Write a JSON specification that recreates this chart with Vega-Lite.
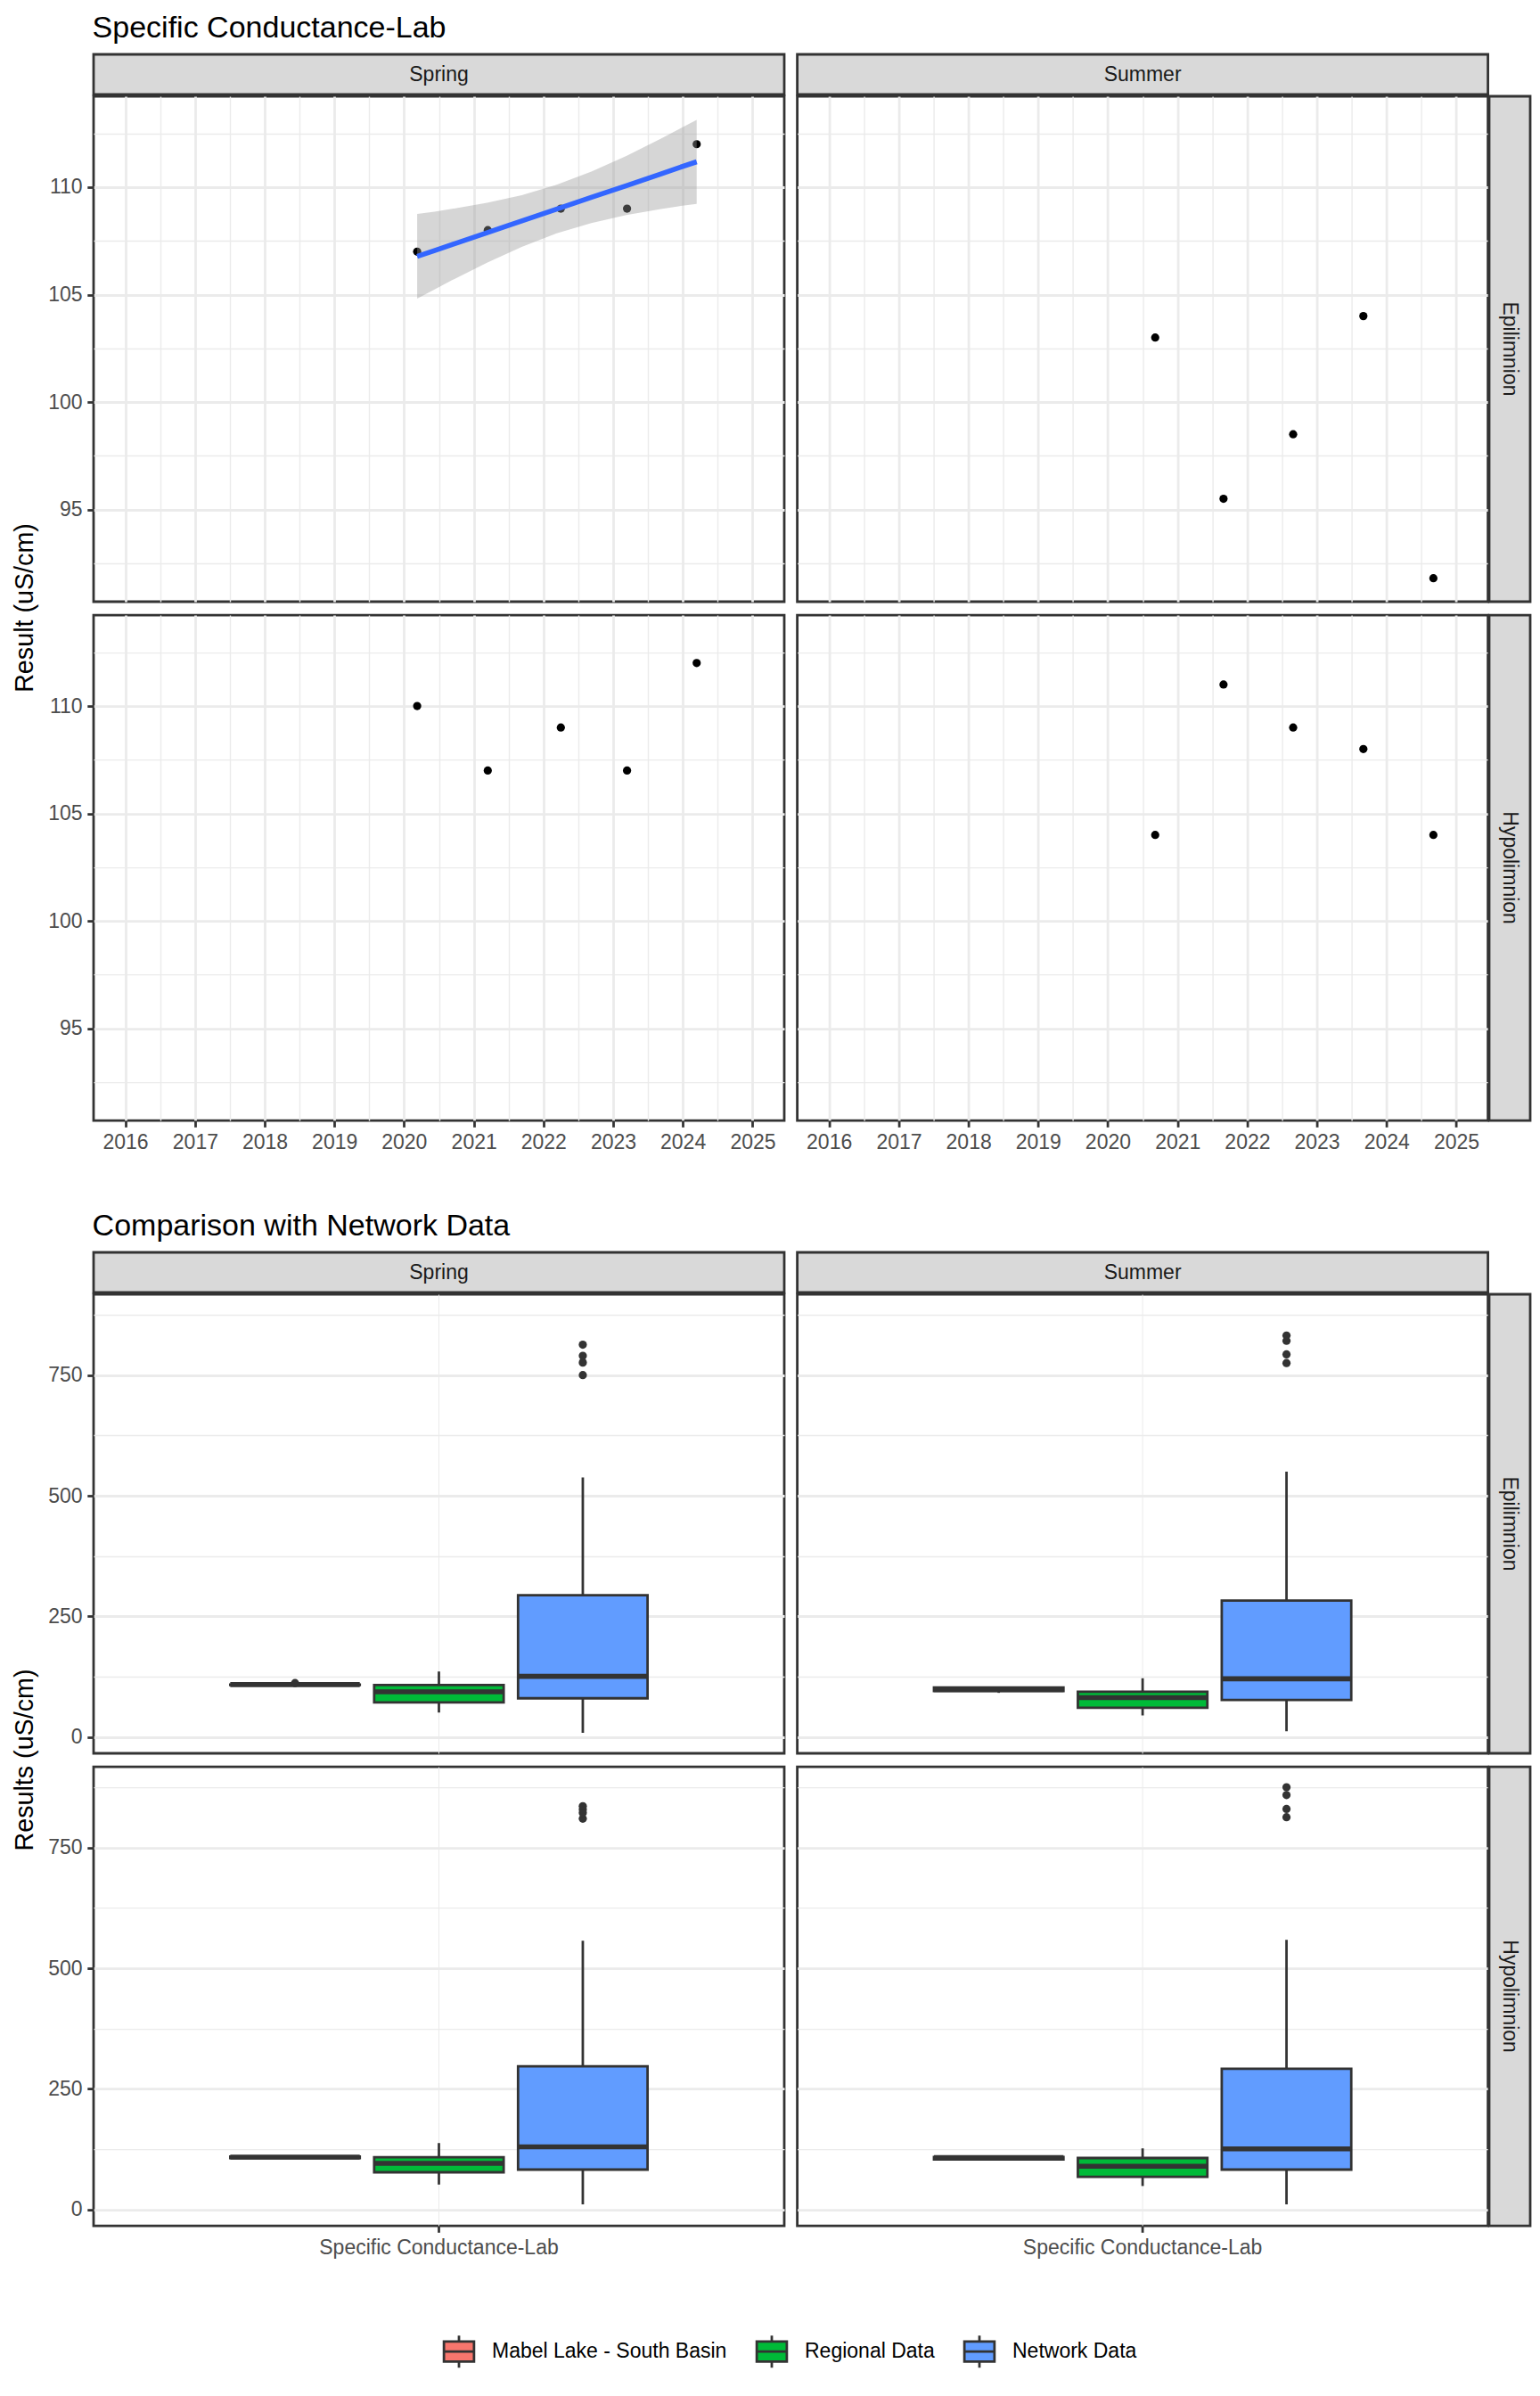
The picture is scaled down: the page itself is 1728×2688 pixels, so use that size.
{
"$schema": "https://vega.github.io/schema/vega-lite/v6.json",
"background": "white",
"padding": {"left": 8, "top": 14, "right": 5, "bottom": 5},
"datasets": {
"points": [
{"season":"Spring","depth":"Epilimnion","date":"2020-03-10","value":107},
{"season":"Spring","depth":"Epilimnion","date":"2021-03-15","value":108},
{"season":"Spring","depth":"Epilimnion","date":"2022-04-02","value":109},
{"season":"Spring","depth":"Epilimnion","date":"2023-03-15","value":109},
{"season":"Spring","depth":"Epilimnion","date":"2024-03-14","value":112},
{"season":"Spring","depth":"Hypolimnion","date":"2020-03-10","value":110},
{"season":"Spring","depth":"Hypolimnion","date":"2021-03-15","value":107},
{"season":"Spring","depth":"Hypolimnion","date":"2022-04-02","value":109},
{"season":"Spring","depth":"Hypolimnion","date":"2023-03-15","value":107},
{"season":"Spring","depth":"Hypolimnion","date":"2024-03-14","value":112},
{"season":"Summer","depth":"Epilimnion","date":"2020-09-06","value":103},
{"season":"Summer","depth":"Epilimnion","date":"2021-08-30","value":95.5},
{"season":"Summer","depth":"Epilimnion","date":"2022-08-30","value":98.5},
{"season":"Summer","depth":"Epilimnion","date":"2023-09-02","value":104},
{"season":"Summer","depth":"Epilimnion","date":"2024-09-03","value":91.8},
{"season":"Summer","depth":"Hypolimnion","date":"2020-09-06","value":104},
{"season":"Summer","depth":"Hypolimnion","date":"2021-08-30","value":111},
{"season":"Summer","depth":"Hypolimnion","date":"2022-08-30","value":109},
{"season":"Summer","depth":"Hypolimnion","date":"2023-09-02","value":108},
{"season":"Summer","depth":"Hypolimnion","date":"2024-09-03","value":104}
],
"smooth": [
{"date":"2020-03-10","fit":106.78,"lo":104.81,"hi":108.75},
{"date":"2020-06-09","fit":107.05,"lo":105.24,"hi":108.86},
{"date":"2020-09-09","fit":107.33,"lo":105.67,"hi":108.99},
{"date":"2021-03-11","fit":107.88,"lo":106.48,"hi":109.27},
{"date":"2021-09-09","fit":108.43,"lo":107.22,"hi":109.63},
{"date":"2022-03-11","fit":108.98,"lo":107.85,"hi":110.11},
{"date":"2022-09-09","fit":109.53,"lo":108.33,"hi":110.72},
{"date":"2023-03-11","fit":110.07,"lo":108.70,"hi":111.45},
{"date":"2023-09-09","fit":110.62,"lo":108.98,"hi":112.26},
{"date":"2023-12-09","fit":110.90,"lo":109.11,"hi":112.69},
{"date":"2024-03-14","fit":111.18,"lo":109.22,"hi":113.13}
],
"boxes": [
{"param":"Specific Conductance-Lab","season":"Spring","depth":"Epilimnion","group":"Mabel Lake - South Basin","lw":107,"q1":108,"med":109,"q3":109,"uw":109},
{"param":"Specific Conductance-Lab","season":"Spring","depth":"Epilimnion","group":"Regional Data","lw":51,"q1":72,"med":94,"q3":108,"uw":136},
{"param":"Specific Conductance-Lab","season":"Spring","depth":"Epilimnion","group":"Network Data","lw":9,"q1":80.5,"med":126,"q3":294,"uw":538},
{"param":"Specific Conductance-Lab","season":"Summer","depth":"Epilimnion","group":"Mabel Lake - South Basin","lw":91.8,"q1":95.5,"med":98.5,"q3":103,"uw":104},
{"param":"Specific Conductance-Lab","season":"Summer","depth":"Epilimnion","group":"Regional Data","lw":45,"q1":61,"med":82,"q3":94,"uw":122},
{"param":"Specific Conductance-Lab","season":"Summer","depth":"Epilimnion","group":"Network Data","lw":12,"q1":77,"med":121,"q3":283,"uw":550},
{"param":"Specific Conductance-Lab","season":"Spring","depth":"Hypolimnion","group":"Mabel Lake - South Basin","lw":107,"q1":107,"med":109,"q3":110,"uw":112},
{"param":"Specific Conductance-Lab","season":"Spring","depth":"Hypolimnion","group":"Regional Data","lw":52,"q1":77.5,"med":96,"q3":108.5,"uw":138},
{"param":"Specific Conductance-Lab","season":"Spring","depth":"Hypolimnion","group":"Network Data","lw":11,"q1":83,"med":130,"q3":297,"uw":557},
{"param":"Specific Conductance-Lab","season":"Summer","depth":"Hypolimnion","group":"Mabel Lake - South Basin","lw":104,"q1":104,"med":108,"q3":109,"uw":111},
{"param":"Specific Conductance-Lab","season":"Summer","depth":"Hypolimnion","group":"Regional Data","lw":49,"q1":68,"med":90,"q3":107,"uw":127},
{"param":"Specific Conductance-Lab","season":"Summer","depth":"Hypolimnion","group":"Network Data","lw":11,"q1":83,"med":126,"q3":292,"uw":559}
],
"outliers": [
{"param":"Specific Conductance-Lab","season":"Spring","depth":"Epilimnion","group":"Mabel Lake - South Basin","value":112},
{"param":"Specific Conductance-Lab","season":"Spring","depth":"Epilimnion","group":"Network Data","value":750},
{"param":"Specific Conductance-Lab","season":"Spring","depth":"Epilimnion","group":"Network Data","value":776},
{"param":"Specific Conductance-Lab","season":"Spring","depth":"Epilimnion","group":"Network Data","value":790},
{"param":"Specific Conductance-Lab","season":"Spring","depth":"Epilimnion","group":"Network Data","value":813},
{"param":"Specific Conductance-Lab","season":"Summer","depth":"Epilimnion","group":"Network Data","value":775},
{"param":"Specific Conductance-Lab","season":"Summer","depth":"Epilimnion","group":"Network Data","value":793},
{"param":"Specific Conductance-Lab","season":"Summer","depth":"Epilimnion","group":"Network Data","value":821},
{"param":"Specific Conductance-Lab","season":"Summer","depth":"Epilimnion","group":"Network Data","value":832},
{"param":"Specific Conductance-Lab","season":"Spring","depth":"Hypolimnion","group":"Network Data","value":810},
{"param":"Specific Conductance-Lab","season":"Spring","depth":"Hypolimnion","group":"Network Data","value":822},
{"param":"Specific Conductance-Lab","season":"Spring","depth":"Hypolimnion","group":"Network Data","value":829},
{"param":"Specific Conductance-Lab","season":"Spring","depth":"Hypolimnion","group":"Network Data","value":836},
{"param":"Specific Conductance-Lab","season":"Summer","depth":"Hypolimnion","group":"Network Data","value":813},
{"param":"Specific Conductance-Lab","season":"Summer","depth":"Hypolimnion","group":"Network Data","value":830},
{"param":"Specific Conductance-Lab","season":"Summer","depth":"Hypolimnion","group":"Network Data","value":859},
{"param":"Specific Conductance-Lab","season":"Summer","depth":"Hypolimnion","group":"Network Data","value":875}
]
},
"columns": 1,
"spacing": 63,
"align": "each",
"concat": [
{
"columns": 2, "align": "each", "spacing": {"row": -3.4, "column": 4},
"concat": [
{"width": 40, "height": 45, "view": {"stroke": null}, "data": {"values": [{"label": ""}]}, "mark": {"type": "text"}, "encoding": {"text": {"field": "label", "type": "nominal"}}},
{"columns": 2, "align": "each", "spacing": {"row": 0, "column": 10.6},
 "title": {"text": "Specific Conductance-Lab", "anchor": "start", "offset": -16, "baseline": "alphabetic", "fontSize": 34, "fontWeight": "normal", "color": "#000000", "font": "Liberation Sans"},
 "concat": [
  {"width": 775, "height": 45, "view": {"fill": "#D9D9D9", "stroke": "#333333", "strokeWidth": 2.78}, "data": {"values": [{"label": "Spring"}]}, "mark": {"type": "text", "fontSize": 23, "color": "#1A1A1A"}, "encoding": {"text": {"field": "label", "type": "nominal"}}},
  {"width": 775, "height": 45, "view": {"fill": "#D9D9D9", "stroke": "#333333", "strokeWidth": 2.78}, "data": {"values": [{"label": "Summer"}]}, "mark": {"type": "text", "fontSize": 23, "color": "#1A1A1A"}, "encoding": {"text": {"field": "label", "type": "nominal"}}}
 ]},
{"width": 40, "height": 1148, "view": {"stroke": null}, "data": {"values": [{"label": "Result (uS/cm)"}]}, "mark": {"type": "text", "angle": 270, "fontSize": 28.7, "color": "#000000"}, "encoding": {"text": {"field": "label", "type": "nominal"}}},
{"columns": 2, "align": "each", "spacing": {"row": 0, "column": -3.4},
 "concat": [
  {"columns": 2, "align": "each", "spacing": {"row": 11.1, "column": 10.6},
   "concat": [
    {"width": 775, "height": 567, "layer": [
      {"data": {"name": "points"}, "transform": [{"filter": "datum.season == 'Spring' && datum.depth == 'Epilimnion'"}],
       "mark": {"type": "point", "filled": true, "color": "#000000", "size": 85, "opacity": 1},
       "encoding": {
        "x": {"field": "date", "type": "temporal", "title": null,
              "scale": {"type": "utc", "domain": [{"year":2015,"month":7,"date":19,"utc":true},{"year":2025,"month":6,"date":16,"utc":true}], "nice": false},
              "axis": {"values": [{"year":2016,"month":1,"date":1,"utc":true},{"year":2016,"month":7,"date":2,"utc":true},{"year":2017,"month":1,"date":1,"utc":true},{"year":2017,"month":7,"date":2,"utc":true},{"year":2018,"month":1,"date":1,"utc":true},{"year":2018,"month":7,"date":2,"utc":true},{"year":2019,"month":1,"date":1,"utc":true},{"year":2019,"month":7,"date":2,"utc":true},{"year":2020,"month":1,"date":1,"utc":true},{"year":2020,"month":7,"date":2,"utc":true},{"year":2021,"month":1,"date":1,"utc":true},{"year":2021,"month":7,"date":2,"utc":true},{"year":2022,"month":1,"date":1,"utc":true},{"year":2022,"month":7,"date":2,"utc":true},{"year":2023,"month":1,"date":1,"utc":true},{"year":2023,"month":7,"date":2,"utc":true},{"year":2024,"month":1,"date":1,"utc":true},{"year":2024,"month":7,"date":2,"utc":true},{"year":2025,"month":1,"date":1,"utc":true}],
                       "labels": false, "ticks": false, "grid": true,
                       "gridWidth": {"condition": {"test": "utcmonth(datum.value) != 0", "value": 1.39}, "value": 2.78}}},
        "y": {"field": "value", "type": "quantitative", "title": null,
              "scale": {"domain": [90.71, 114.23], "nice": false, "zero": false},
              "axis": {"values": [92.5,95,97.5,100,102.5,105,107.5,110,112.5], "grid": true,
                       "labelExpr": "datum.value % 5 == 0 ? datum.label : ''",
                       "tickOpacity": {"condition": {"test": "datum.value % 5 != 0", "value": 0}, "value": 1},
                       "gridWidth": {"condition": {"test": "datum.value % 5 != 0", "value": 1.39}, "value": 2.78}}}}},
      {"data": {"name": "smooth"}, "mark": {"type": "area", "color": "#999999", "opacity": 0.4},
       "encoding": {"x": {"field": "date", "type": "temporal", "title": null}, "y": {"field": "lo", "type": "quantitative", "title": null}, "y2": {"field": "hi"}}},
      {"data": {"name": "smooth"}, "mark": {"type": "line", "color": "#3366FF", "strokeWidth": 5.6},
       "encoding": {"x": {"field": "date", "type": "temporal", "title": null}, "y": {"field": "fit", "type": "quantitative", "title": null}}}
    ]},
    {"width": 775, "height": 567,
     "data": {"name": "points"}, "transform": [{"filter": "datum.season == 'Summer' && datum.depth == 'Epilimnion'"}],
     "mark": {"type": "point", "filled": true, "color": "#000000", "size": 85, "opacity": 1},
     "encoding": {
        "x": {"field": "date", "type": "temporal", "title": null,
              "scale": {"type": "utc", "domain": [{"year":2015,"month":7,"date":19,"utc":true},{"year":2025,"month":6,"date":16,"utc":true}], "nice": false},
              "axis": {"values": [{"year":2016,"month":1,"date":1,"utc":true},{"year":2016,"month":7,"date":2,"utc":true},{"year":2017,"month":1,"date":1,"utc":true},{"year":2017,"month":7,"date":2,"utc":true},{"year":2018,"month":1,"date":1,"utc":true},{"year":2018,"month":7,"date":2,"utc":true},{"year":2019,"month":1,"date":1,"utc":true},{"year":2019,"month":7,"date":2,"utc":true},{"year":2020,"month":1,"date":1,"utc":true},{"year":2020,"month":7,"date":2,"utc":true},{"year":2021,"month":1,"date":1,"utc":true},{"year":2021,"month":7,"date":2,"utc":true},{"year":2022,"month":1,"date":1,"utc":true},{"year":2022,"month":7,"date":2,"utc":true},{"year":2023,"month":1,"date":1,"utc":true},{"year":2023,"month":7,"date":2,"utc":true},{"year":2024,"month":1,"date":1,"utc":true},{"year":2024,"month":7,"date":2,"utc":true},{"year":2025,"month":1,"date":1,"utc":true}],
                       "labels": false, "ticks": false, "grid": true,
                       "gridWidth": {"condition": {"test": "utcmonth(datum.value) != 0", "value": 1.39}, "value": 2.78}}},
        "y": {"field": "value", "type": "quantitative", "title": null,
              "scale": {"domain": [90.71, 114.23], "nice": false, "zero": false},
              "axis": {"values": [92.5,95,97.5,100,102.5,105,107.5,110,112.5], "grid": true, "labels": false, "ticks": false,
                       "gridWidth": {"condition": {"test": "datum.value % 5 != 0", "value": 1.39}, "value": 2.78}}}}},
    {"width": 775, "height": 567,
     "data": {"name": "points"}, "transform": [{"filter": "datum.season == 'Spring' && datum.depth == 'Hypolimnion'"}],
     "mark": {"type": "point", "filled": true, "color": "#000000", "size": 85, "opacity": 1},
     "encoding": {
        "x": {"field": "date", "type": "temporal", "title": null,
              "scale": {"type": "utc", "domain": [{"year":2015,"month":7,"date":19,"utc":true},{"year":2025,"month":6,"date":16,"utc":true}], "nice": false},
              "axis": {"values": [{"year":2016,"month":1,"date":1,"utc":true},{"year":2016,"month":7,"date":2,"utc":true},{"year":2017,"month":1,"date":1,"utc":true},{"year":2017,"month":7,"date":2,"utc":true},{"year":2018,"month":1,"date":1,"utc":true},{"year":2018,"month":7,"date":2,"utc":true},{"year":2019,"month":1,"date":1,"utc":true},{"year":2019,"month":7,"date":2,"utc":true},{"year":2020,"month":1,"date":1,"utc":true},{"year":2020,"month":7,"date":2,"utc":true},{"year":2021,"month":1,"date":1,"utc":true},{"year":2021,"month":7,"date":2,"utc":true},{"year":2022,"month":1,"date":1,"utc":true},{"year":2022,"month":7,"date":2,"utc":true},{"year":2023,"month":1,"date":1,"utc":true},{"year":2023,"month":7,"date":2,"utc":true},{"year":2024,"month":1,"date":1,"utc":true},{"year":2024,"month":7,"date":2,"utc":true},{"year":2025,"month":1,"date":1,"utc":true}],
                       "grid": true,
                       "labelExpr": "utcmonth(datum.value) == 0 ? utcFormat(datum.value, '%Y') : ''",
                       "tickOpacity": {"condition": {"test": "utcmonth(datum.value) != 0", "value": 0}, "value": 1},
                       "gridWidth": {"condition": {"test": "utcmonth(datum.value) != 0", "value": 1.39}, "value": 2.78}}},
        "y": {"field": "value", "type": "quantitative", "title": null,
              "scale": {"domain": [90.71, 114.23], "nice": false, "zero": false},
              "axis": {"values": [92.5,95,97.5,100,102.5,105,107.5,110,112.5], "grid": true,
                       "labelExpr": "datum.value % 5 == 0 ? datum.label : ''",
                       "tickOpacity": {"condition": {"test": "datum.value % 5 != 0", "value": 0}, "value": 1},
                       "gridWidth": {"condition": {"test": "datum.value % 5 != 0", "value": 1.39}, "value": 2.78}}}}},
    {"width": 775, "height": 567,
     "data": {"name": "points"}, "transform": [{"filter": "datum.season == 'Summer' && datum.depth == 'Hypolimnion'"}],
     "mark": {"type": "point", "filled": true, "color": "#000000", "size": 85, "opacity": 1},
     "encoding": {
        "x": {"field": "date", "type": "temporal", "title": null,
              "scale": {"type": "utc", "domain": [{"year":2015,"month":7,"date":19,"utc":true},{"year":2025,"month":6,"date":16,"utc":true}], "nice": false},
              "axis": {"values": [{"year":2016,"month":1,"date":1,"utc":true},{"year":2016,"month":7,"date":2,"utc":true},{"year":2017,"month":1,"date":1,"utc":true},{"year":2017,"month":7,"date":2,"utc":true},{"year":2018,"month":1,"date":1,"utc":true},{"year":2018,"month":7,"date":2,"utc":true},{"year":2019,"month":1,"date":1,"utc":true},{"year":2019,"month":7,"date":2,"utc":true},{"year":2020,"month":1,"date":1,"utc":true},{"year":2020,"month":7,"date":2,"utc":true},{"year":2021,"month":1,"date":1,"utc":true},{"year":2021,"month":7,"date":2,"utc":true},{"year":2022,"month":1,"date":1,"utc":true},{"year":2022,"month":7,"date":2,"utc":true},{"year":2023,"month":1,"date":1,"utc":true},{"year":2023,"month":7,"date":2,"utc":true},{"year":2024,"month":1,"date":1,"utc":true},{"year":2024,"month":7,"date":2,"utc":true},{"year":2025,"month":1,"date":1,"utc":true}],
                       "grid": true,
                       "labelExpr": "utcmonth(datum.value) == 0 ? utcFormat(datum.value, '%Y') : ''",
                       "tickOpacity": {"condition": {"test": "utcmonth(datum.value) != 0", "value": 0}, "value": 1},
                       "gridWidth": {"condition": {"test": "utcmonth(datum.value) != 0", "value": 1.39}, "value": 2.78}}},
        "y": {"field": "value", "type": "quantitative", "title": null,
              "scale": {"domain": [90.71, 114.23], "nice": false, "zero": false},
              "axis": {"values": [92.5,95,97.5,100,102.5,105,107.5,110,112.5], "grid": true, "labels": false, "ticks": false,
                       "gridWidth": {"condition": {"test": "datum.value % 5 != 0", "value": 1.39}, "value": 2.78}}}}}
   ]},
  {"columns": 1, "align": "each", "spacing": {"row": 11.1, "column": 0},
   "concat": [
    {"width": 46, "height": 567, "view": {"fill": "#D9D9D9", "stroke": "#333333", "strokeWidth": 2.78}, "data": {"values": [{"label": "Epilimnion"}]}, "mark": {"type": "text", "fontSize": 23, "color": "#1A1A1A", "angle": 90}, "encoding": {"text": {"field": "label", "type": "nominal"}}},
    {"width": 46, "height": 567, "view": {"fill": "#D9D9D9", "stroke": "#333333", "strokeWidth": 2.78}, "data": {"values": [{"label": "Hypolimnion"}]}, "mark": {"type": "text", "fontSize": 23, "color": "#1A1A1A", "angle": 90}, "encoding": {"text": {"field": "label", "type": "nominal"}}}
   ]}
 ]}
]
},
{
"columns": 2, "align": "each", "spacing": {"row": -3.4, "column": 4},
"concat": [
{"width": 40, "height": 45, "view": {"stroke": null}, "data": {"values": [{"label": ""}]}, "mark": {"type": "text"}, "encoding": {"text": {"field": "label", "type": "nominal"}}},
{"columns": 2, "align": "each", "spacing": {"row": 0, "column": 10.6},
 "title": {"text": "Comparison with Network Data", "anchor": "start", "offset": -16, "baseline": "alphabetic", "fontSize": 34, "fontWeight": "normal", "color": "#000000", "font": "Liberation Sans"},
 "concat": [
  {"width": 775, "height": 45, "view": {"fill": "#D9D9D9", "stroke": "#333333", "strokeWidth": 2.78}, "data": {"values": [{"label": "Spring"}]}, "mark": {"type": "text", "fontSize": 23, "color": "#1A1A1A"}, "encoding": {"text": {"field": "label", "type": "nominal"}}},
  {"width": 775, "height": 45, "view": {"fill": "#D9D9D9", "stroke": "#333333", "strokeWidth": 2.78}, "data": {"values": [{"label": "Summer"}]}, "mark": {"type": "text", "fontSize": 23, "color": "#1A1A1A"}, "encoding": {"text": {"field": "label", "type": "nominal"}}}
 ]},
{"width": 40, "height": 1045, "view": {"stroke": null}, "data": {"values": [{"label": "Results (uS/cm)"}]}, "mark": {"type": "text", "angle": 270, "fontSize": 28.7, "color": "#000000"}, "encoding": {"text": {"field": "label", "type": "nominal"}}},
{"columns": 2, "align": "each", "spacing": {"row": 0, "column": -3.4},
 "concat": [
  {"columns": 2, "align": "each", "spacing": {"row": 11.1, "column": 10.6},
   "concat": [
    {"width": 775, "height": 515, "layer": [
      {"data": {"name": "boxes"}, "transform": [{"filter": "datum.season == 'Spring' && datum.depth == 'Epilimnion'"}],
       "mark": {"type": "rule", "color": "#333333", "strokeWidth": 2.78},
       "encoding": {
        "x": {"field": "param", "type": "nominal", "title": null, "scale": {"paddingOuter": 0.3, "paddingInner": 0}, "axis": {"labels": false, "ticks": false, "grid": true, "bandPosition": 0.5}},
        "xOffset": {"field": "group", "type": "nominal", "scale": {"domain": ["Mabel Lake - South Basin", "Regional Data", "Network Data"], "paddingInner": 0.1, "paddingOuter": 0.05}},
        "y": {"field": "lw", "type": "quantitative", "title": null, "scale": {"domain": [-33.5, 917.5], "nice": false, "zero": false},
              "axis": {"values": [0,125,250,375,500,625,750,875], "grid": true,
                       "labelExpr": "datum.value % 250 == 0 ? datum.label : ''",
                       "tickOpacity": {"condition": {"test": "datum.value % 250 != 0", "value": 0}, "value": 1},
                       "gridWidth": {"condition": {"test": "datum.value % 250 != 0", "value": 1.39}, "value": 2.78}}},
        "y2": {"field": "uw"}}},
      {"data": {"name": "boxes"}, "transform": [{"filter": "datum.season == 'Spring' && datum.depth == 'Epilimnion'"}],
       "mark": {"type": "bar", "stroke": "#333333", "strokeWidth": 2.78},
       "encoding": {
        "x": {"field": "param", "type": "nominal", "title": null},
        "xOffset": {"field": "group", "type": "nominal"},
        "y": {"field": "q1", "type": "quantitative", "title": null}, "y2": {"field": "q3"},
        "fill": {"field": "group", "type": "nominal", "scale": {"domain": ["Mabel Lake - South Basin", "Regional Data", "Network Data"], "range": ["#F8766D", "#00BA38", "#619CFF"]},
                 "legend": {"title": null, "orient": "none", "legendX": 483, "legendY": 2553, "direction": "horizontal", "symbolType": "M-0.75,-0.5H0.75V0.5H-0.75Z M-0.75,0H0.75 M0,-0.5V-0.8 M0,0.5V0.8", "symbolSize": 2025, "symbolStrokeColor": "#333333", "symbolStrokeWidth": 2.78, "symbolOpacity": 1, "labelFontSize": 23, "labelColor": "#000000", "labelFont": "Liberation Sans", "labelOffset": 13, "columnPadding": 26, "labelLimit": 1000, "padding": 0}}}},
      {"data": {"name": "boxes"}, "transform": [{"filter": "datum.season == 'Spring' && datum.depth == 'Epilimnion'"}],
       "mark": {"type": "bar", "stroke": "#333333", "strokeWidth": 5.6, "fillOpacity": 0},
       "encoding": {
        "x": {"field": "param", "type": "nominal", "title": null},
        "xOffset": {"field": "group", "type": "nominal"},
        "y": {"field": "med", "type": "quantitative", "title": null}, "y2": {"field": "med"}}},
      {"data": {"name": "outliers"}, "transform": [{"filter": "datum.season == 'Spring' && datum.depth == 'Epilimnion'"}],
       "mark": {"type": "point", "filled": true, "color": "#333333", "size": 85, "opacity": 1},
       "encoding": {
        "x": {"field": "param", "type": "nominal", "title": null},
        "xOffset": {"field": "group", "type": "nominal"},
        "y": {"field": "value", "type": "quantitative", "title": null}}}
    ]},
    {"width": 775, "height": 515, "layer": [
      {"data": {"name": "boxes"}, "transform": [{"filter": "datum.season == 'Summer' && datum.depth == 'Epilimnion'"}],
       "mark": {"type": "rule", "color": "#333333", "strokeWidth": 2.78},
       "encoding": {
        "x": {"field": "param", "type": "nominal", "title": null, "scale": {"paddingOuter": 0.3, "paddingInner": 0}, "axis": {"labels": false, "ticks": false, "grid": true, "bandPosition": 0.5}},
        "xOffset": {"field": "group", "type": "nominal", "scale": {"domain": ["Mabel Lake - South Basin", "Regional Data", "Network Data"], "paddingInner": 0.1, "paddingOuter": 0.05}},
        "y": {"field": "lw", "type": "quantitative", "title": null, "scale": {"domain": [-33.5, 917.5], "nice": false, "zero": false},
              "axis": {"values": [0,125,250,375,500,625,750,875], "grid": true, "labels": false, "ticks": false,
                       "gridWidth": {"condition": {"test": "datum.value % 250 != 0", "value": 1.39}, "value": 2.78}}},
        "y2": {"field": "uw"}}},
      {"data": {"name": "boxes"}, "transform": [{"filter": "datum.season == 'Summer' && datum.depth == 'Epilimnion'"}],
       "mark": {"type": "bar", "stroke": "#333333", "strokeWidth": 2.78},
       "encoding": {
        "x": {"field": "param", "type": "nominal", "title": null},
        "xOffset": {"field": "group", "type": "nominal"},
        "y": {"field": "q1", "type": "quantitative", "title": null}, "y2": {"field": "q3"},
        "fill": {"field": "group", "type": "nominal", "scale": {"domain": ["Mabel Lake - South Basin", "Regional Data", "Network Data"], "range": ["#F8766D", "#00BA38", "#619CFF"]},
                 "legend": {"title": null, "orient": "none", "legendX": 483, "legendY": 2553, "direction": "horizontal", "symbolType": "M-0.75,-0.5H0.75V0.5H-0.75Z M-0.75,0H0.75 M0,-0.5V-0.8 M0,0.5V0.8", "symbolSize": 2025, "symbolStrokeColor": "#333333", "symbolStrokeWidth": 2.78, "symbolOpacity": 1, "labelFontSize": 23, "labelColor": "#000000", "labelFont": "Liberation Sans", "labelOffset": 13, "columnPadding": 26, "labelLimit": 1000, "padding": 0}}}},
      {"data": {"name": "boxes"}, "transform": [{"filter": "datum.season == 'Summer' && datum.depth == 'Epilimnion'"}],
       "mark": {"type": "bar", "stroke": "#333333", "strokeWidth": 5.6, "fillOpacity": 0},
       "encoding": {
        "x": {"field": "param", "type": "nominal", "title": null},
        "xOffset": {"field": "group", "type": "nominal"},
        "y": {"field": "med", "type": "quantitative", "title": null}, "y2": {"field": "med"}}},
      {"data": {"name": "outliers"}, "transform": [{"filter": "datum.season == 'Summer' && datum.depth == 'Epilimnion'"}],
       "mark": {"type": "point", "filled": true, "color": "#333333", "size": 85, "opacity": 1},
       "encoding": {
        "x": {"field": "param", "type": "nominal", "title": null},
        "xOffset": {"field": "group", "type": "nominal"},
        "y": {"field": "value", "type": "quantitative", "title": null}}}
    ]},
    {"width": 775, "height": 515, "layer": [
      {"data": {"name": "boxes"}, "transform": [{"filter": "datum.season == 'Spring' && datum.depth == 'Hypolimnion'"}],
       "mark": {"type": "rule", "color": "#333333", "strokeWidth": 2.78},
       "encoding": {
        "x": {"field": "param", "type": "nominal", "title": null, "scale": {"paddingOuter": 0.3, "paddingInner": 0}, "axis": {"grid": true, "bandPosition": 0.5, "labelAngle": 0, "labelLimit": 1000}},
        "xOffset": {"field": "group", "type": "nominal", "scale": {"domain": ["Mabel Lake - South Basin", "Regional Data", "Network Data"], "paddingInner": 0.1, "paddingOuter": 0.05}},
        "y": {"field": "lw", "type": "quantitative", "title": null, "scale": {"domain": [-33.5, 917.5], "nice": false, "zero": false},
              "axis": {"values": [0,125,250,375,500,625,750,875], "grid": true,
                       "labelExpr": "datum.value % 250 == 0 ? datum.label : ''",
                       "tickOpacity": {"condition": {"test": "datum.value % 250 != 0", "value": 0}, "value": 1},
                       "gridWidth": {"condition": {"test": "datum.value % 250 != 0", "value": 1.39}, "value": 2.78}}},
        "y2": {"field": "uw"}}},
      {"data": {"name": "boxes"}, "transform": [{"filter": "datum.season == 'Spring' && datum.depth == 'Hypolimnion'"}],
       "mark": {"type": "bar", "stroke": "#333333", "strokeWidth": 2.78},
       "encoding": {
        "x": {"field": "param", "type": "nominal", "title": null},
        "xOffset": {"field": "group", "type": "nominal"},
        "y": {"field": "q1", "type": "quantitative", "title": null}, "y2": {"field": "q3"},
        "fill": {"field": "group", "type": "nominal", "scale": {"domain": ["Mabel Lake - South Basin", "Regional Data", "Network Data"], "range": ["#F8766D", "#00BA38", "#619CFF"]},
                 "legend": {"title": null, "orient": "none", "legendX": 483, "legendY": 2553, "direction": "horizontal", "symbolType": "M-0.75,-0.5H0.75V0.5H-0.75Z M-0.75,0H0.75 M0,-0.5V-0.8 M0,0.5V0.8", "symbolSize": 2025, "symbolStrokeColor": "#333333", "symbolStrokeWidth": 2.78, "symbolOpacity": 1, "labelFontSize": 23, "labelColor": "#000000", "labelFont": "Liberation Sans", "labelOffset": 13, "columnPadding": 26, "labelLimit": 1000, "padding": 0}}}},
      {"data": {"name": "boxes"}, "transform": [{"filter": "datum.season == 'Spring' && datum.depth == 'Hypolimnion'"}],
       "mark": {"type": "bar", "stroke": "#333333", "strokeWidth": 5.6, "fillOpacity": 0},
       "encoding": {
        "x": {"field": "param", "type": "nominal", "title": null},
        "xOffset": {"field": "group", "type": "nominal"},
        "y": {"field": "med", "type": "quantitative", "title": null}, "y2": {"field": "med"}}},
      {"data": {"name": "outliers"}, "transform": [{"filter": "datum.season == 'Spring' && datum.depth == 'Hypolimnion'"}],
       "mark": {"type": "point", "filled": true, "color": "#333333", "size": 85, "opacity": 1},
       "encoding": {
        "x": {"field": "param", "type": "nominal", "title": null},
        "xOffset": {"field": "group", "type": "nominal"},
        "y": {"field": "value", "type": "quantitative", "title": null}}}
    ]},
    {"width": 775, "height": 515, "layer": [
      {"data": {"name": "boxes"}, "transform": [{"filter": "datum.season == 'Summer' && datum.depth == 'Hypolimnion'"}],
       "mark": {"type": "rule", "color": "#333333", "strokeWidth": 2.78},
       "encoding": {
        "x": {"field": "param", "type": "nominal", "title": null, "scale": {"paddingOuter": 0.3, "paddingInner": 0}, "axis": {"grid": true, "bandPosition": 0.5, "labelAngle": 0, "labelLimit": 1000}},
        "xOffset": {"field": "group", "type": "nominal", "scale": {"domain": ["Mabel Lake - South Basin", "Regional Data", "Network Data"], "paddingInner": 0.1, "paddingOuter": 0.05}},
        "y": {"field": "lw", "type": "quantitative", "title": null, "scale": {"domain": [-33.5, 917.5], "nice": false, "zero": false},
              "axis": {"values": [0,125,250,375,500,625,750,875], "grid": true, "labels": false, "ticks": false,
                       "gridWidth": {"condition": {"test": "datum.value % 250 != 0", "value": 1.39}, "value": 2.78}}},
        "y2": {"field": "uw"}}},
      {"data": {"name": "boxes"}, "transform": [{"filter": "datum.season == 'Summer' && datum.depth == 'Hypolimnion'"}],
       "mark": {"type": "bar", "stroke": "#333333", "strokeWidth": 2.78},
       "encoding": {
        "x": {"field": "param", "type": "nominal", "title": null},
        "xOffset": {"field": "group", "type": "nominal"},
        "y": {"field": "q1", "type": "quantitative", "title": null}, "y2": {"field": "q3"},
        "fill": {"field": "group", "type": "nominal", "scale": {"domain": ["Mabel Lake - South Basin", "Regional Data", "Network Data"], "range": ["#F8766D", "#00BA38", "#619CFF"]},
                 "legend": {"title": null, "orient": "none", "legendX": 483, "legendY": 2553, "direction": "horizontal", "symbolType": "M-0.75,-0.5H0.75V0.5H-0.75Z M-0.75,0H0.75 M0,-0.5V-0.8 M0,0.5V0.8", "symbolSize": 2025, "symbolStrokeColor": "#333333", "symbolStrokeWidth": 2.78, "symbolOpacity": 1, "labelFontSize": 23, "labelColor": "#000000", "labelFont": "Liberation Sans", "labelOffset": 13, "columnPadding": 26, "labelLimit": 1000, "padding": 0}}}},
      {"data": {"name": "boxes"}, "transform": [{"filter": "datum.season == 'Summer' && datum.depth == 'Hypolimnion'"}],
       "mark": {"type": "bar", "stroke": "#333333", "strokeWidth": 5.6, "fillOpacity": 0},
       "encoding": {
        "x": {"field": "param", "type": "nominal", "title": null},
        "xOffset": {"field": "group", "type": "nominal"},
        "y": {"field": "med", "type": "quantitative", "title": null}, "y2": {"field": "med"}}},
      {"data": {"name": "outliers"}, "transform": [{"filter": "datum.season == 'Summer' && datum.depth == 'Hypolimnion'"}],
       "mark": {"type": "point", "filled": true, "color": "#333333", "size": 85, "opacity": 1},
       "encoding": {
        "x": {"field": "param", "type": "nominal", "title": null},
        "xOffset": {"field": "group", "type": "nominal"},
        "y": {"field": "value", "type": "quantitative", "title": null}}}
    ]}
   ]},
  {"columns": 1, "align": "each", "spacing": {"row": 11.1, "column": 0},
   "concat": [
    {"width": 46, "height": 515, "view": {"fill": "#D9D9D9", "stroke": "#333333", "strokeWidth": 2.78}, "data": {"values": [{"label": "Epilimnion"}]}, "mark": {"type": "text", "fontSize": 23, "color": "#1A1A1A", "angle": 90}, "encoding": {"text": {"field": "label", "type": "nominal"}}},
    {"width": 46, "height": 515, "view": {"fill": "#D9D9D9", "stroke": "#333333", "strokeWidth": 2.78}, "data": {"values": [{"label": "Hypolimnion"}]}, "mark": {"type": "text", "fontSize": 23, "color": "#1A1A1A", "angle": 90}, "encoding": {"text": {"field": "label", "type": "nominal"}}}
   ]}
 ]}
]
}
],
"config": {
"font": "Liberation Sans",
"view": {"stroke": "#333333", "strokeWidth": 2.78},
"axis": {"domain": false, "gridColor": "#EBEBEB", "tickColor": "#333333", "tickWidth": 2.78, "tickSize": 7.2, "labelColor": "#4D4D4D", "labelFontSize": 23, "labelFont": "Liberation Sans", "labelPadding": 5.7, "labelFlush": false, "labelOverlap": false, "labelBound": false, "labelLimit": 1000},
"title": {"font": "Liberation Sans", "fontSize": 34, "fontWeight": "normal", "color": "#000000", "anchor": "start"}
}
}
